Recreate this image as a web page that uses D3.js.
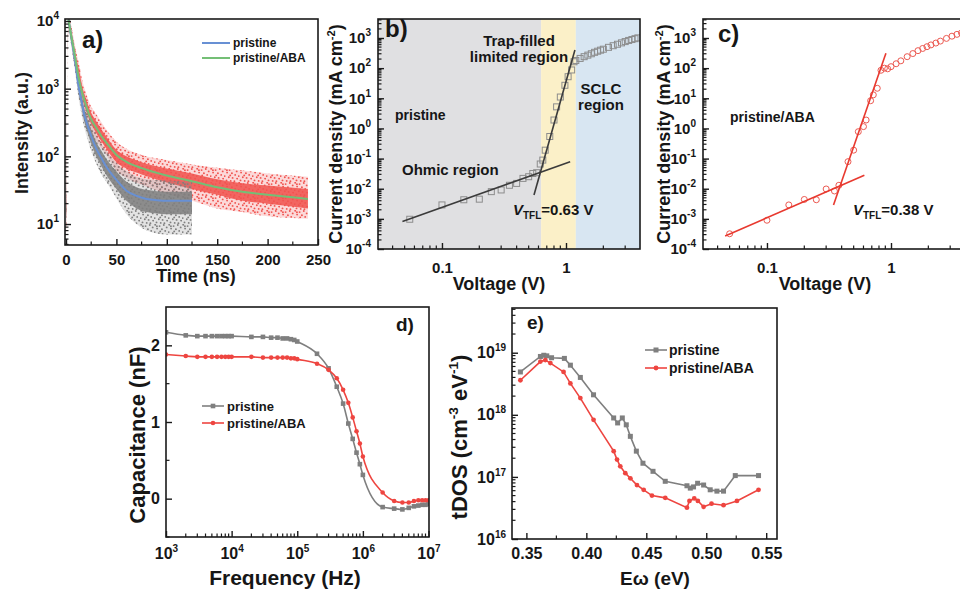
<!DOCTYPE html>
<html>
<head>
<meta charset="utf-8">
<script src="https://cdn.jsdelivr.net/npm/d3@7/dist/d3.min.js"></script>
<style>
  html, body { margin: 0; padding: 0; background: #fff; }
  svg text { font-family: "Liberation Sans", Arial, Helvetica, sans-serif; font-weight: bold; fill: #161616; }
</style>
</head>
<body>
<svg id="fig" width="960" height="590"></svg>
<script>
// ================= (a) time-resolved PL decay =================
const plTickTime = [0, 50, 100, 150, 200, 250];
const plTickIntensity = [10, 100, 1000, 10000];

// scatter cloud envelopes, pristine/ABA film
const plCloudTimeABA = [0.5, 2.5, 4, 6, 8, 10, 13, 16, 20, 25, 30, 40, 50, 60, 75, 100, 125, 150, 175, 200, 240];
const plOuterHiABA   = [30, 14000, 10500, 7400, 5200, 3600, 2300, 1350, 850, 540, 420, 250, 165, 130, 105, 88, 76, 68, 62, 56, 50];
const plOuterLoABA   = [7, 8000, 5800, 3800, 2500, 1650, 1100, 600, 400, 240, 170, 105, 62, 48, 38, 28, 22, 17, 15, 13, 12];
const plCoreHiABA    = [22, 12000, 8800, 6200, 4300, 2900, 1900, 1100, 700, 440, 330, 195, 125, 100, 82, 66, 56, 46, 40, 37, 33];
const plCoreLoABA    = [12, 9000, 6500, 4400, 3000, 2000, 1300, 750, 470, 300, 220, 130, 82, 66, 54, 41, 33, 27, 22, 20, 17];

// scatter cloud envelopes, pristine film
const plCloudTimePristine = [0.5, 2.5, 4, 6, 8, 10, 12, 15, 18, 20, 25, 30, 35, 40, 50, 60, 70, 80, 100, 125];
const plOuterHiPristine   = [30, 13500, 10000, 6600, 4400, 2800, 1750, 1050, 650, 500, 320, 210, 155, 120, 80, 60, 50, 46, 44, 42];
const plOuterLoPristine   = [8, 8000, 5600, 3600, 2300, 1400, 800, 450, 270, 210, 120, 78, 55, 42, 24, 14, 10, 8, 7, 7];
const plCoreHiPristine    = [22, 12000, 8600, 5700, 3800, 2400, 1450, 860, 520, 410, 250, 165, 122, 92, 60, 42, 35, 32, 30, 30];
const plCoreLoPristine    = [12, 9000, 6500, 4200, 2700, 1650, 1000, 570, 330, 260, 155, 100, 72, 53, 33, 22, 17, 15, 14, 14];

// fitted decay curves
const plFitTimePristine = [2.5, 4, 6, 8, 10, 12, 15, 18, 20, 25, 30, 35, 40, 50, 60, 70, 80, 90, 100, 125];
const plFitPristine     = [10500, 7500, 4900, 3200, 2000, 1200, 700, 420, 330, 200, 130, 95, 70, 45, 31, 26, 23.5, 22.5, 22, 22];
const plFitTimeABA = [2.5, 4, 6, 8, 10, 12, 15, 18, 20, 23, 26, 30, 35, 40, 50, 60, 75, 100, 125, 150, 175, 200, 240];
const plFitABA     = [10500, 7600, 5200, 3600, 2400, 1600, 1000, 700, 560, 410, 330, 265, 200, 160, 105, 83, 67, 52, 43, 35, 30, 27, 23.5];
const plLegend = ["pristine", "pristine/ABA"];

// ================= (b), (c) dark J-V (SCLC) =================
const ivTickVolt = [0.1, 1];
const ivTickCurrent = [1e-4, 1e-3, 1e-2, 1e-1, 1, 10, 100, 1000];

const bVolt = [0.055, 0.1, 0.15, 0.2, 0.25, 0.3, 0.35, 0.4, 0.45, 0.5, 0.54, 0.58, 0.62, 0.65, 0.68, 0.74, 0.8, 0.84, 0.9, 0.98, 1.04, 1.11, 1.16, 1.2, 1.3, 1.4, 1.5, 1.6, 1.7, 1.8, 1.9, 2.0, 2.2, 2.4, 2.6, 2.8, 3.0, 3.2, 3.4, 3.6, 3.8];
const bCurr = [9.7e-4, 2.9e-3, 4.3e-3, 4.5e-3, 8e-3, 9.1e-3, 1.3e-2, 1.5e-2, 2.2e-2, 2.5e-2, 3.2e-2, 3.4e-2, 6.6e-2, 8.9e-2, 0.19, 0.54, 1.9, 5.2, 11, 27, 52, 87, 163, 180, 210, 240, 270, 300, 335, 365, 395, 425, 490, 555, 620, 690, 760, 830, 890, 950, 1010];
const bOhmicFitV = [0.048, 1.08], bOhmicFitJ = [8.1e-4, 0.079];
const bTflFitV = [0.552, 1.18],   bTflFitJ = [6.2e-3, 400];
const bRegionEdges = [0.0305, 0.63, 1.2, 3.95];
const bVtfl = "0.63";

const cVolt = [0.05, 0.1, 0.15, 0.2, 0.25, 0.3, 0.35, 0.38, 0.45, 0.5, 0.545, 0.6, 0.63, 0.685, 0.72, 0.775, 0.83, 0.885, 0.94, 1.0, 1.1, 1.2, 1.35, 1.5, 1.65, 1.8, 1.95, 2.1, 2.3, 2.5, 2.8, 3.1, 3.4, 3.7];
const cCurr = [3.2e-4, 9e-4, 2.9e-3, 4.4e-3, 4.3e-3, 9.8e-3, 8.4e-3, 1.3e-2, 0.079, 0.19, 0.78, 1.15, 1.9, 8.3, 13, 21.5, 85, 100, 95, 112, 140, 175, 240, 305, 380, 450, 515, 590, 680, 790, 970, 1150, 1320, 1480];
const cOhmicFitV = [0.046, 0.61], cOhmicFitJ = [2.7e-4, 0.028];
const cTflFitV = [0.344, 0.91],   cTflFitJ = [2.9e-3, 310];
const cVtfl = "0.38";

// ================= (d) capacitance-frequency =================
const cfTickFreq = [1e3, 1e4, 1e5, 1e6, 1e7];
const cfTickCap = [0, 1, 2];
const cfFreq = [1e3, 2e3, 3e3, 4e3, 5e3, 6e3, 7e3, 8e3, 9e3,
                1e4, 2e4, 3e4, 4e4, 5e4, 6e4, 7e4, 8e4, 9e4,
                1e5, 2e5, 3e5, 4e5, 5e5, 6e5, 7e5, 8e5, 9e5,
                1e6, 2e6, 3e6, 4e6, 5e6, 6e6, 7e6, 8e6, 9e6, 1e7];
const cfPristine = [2.17, 2.13, 2.12, 2.12, 2.12, 2.12, 2.12, 2.12, 2.12,
                    2.12, 2.11, 2.11, 2.10, 2.10, 2.09, 2.09, 2.08, 2.07,
                    2.05, 1.89, 1.70, 1.46, 1.24, 0.98, 0.78, 0.60, 0.45,
                    0.31, -0.11, -0.13, -0.14, -0.12, -0.10, -0.09, -0.08, -0.08, -0.07];
const cfABA = [1.88, 1.86, 1.85, 1.85, 1.85, 1.85, 1.85, 1.85, 1.85,
               1.85, 1.85, 1.84, 1.84, 1.84, 1.84, 1.84, 1.83, 1.83,
               1.82, 1.76, 1.68, 1.57, 1.42, 1.25, 1.06, 0.88, 0.72,
               0.55, 0.08, -0.03, -0.05, -0.05, -0.03, -0.02, -0.02, -0.02, -0.02];

// ================= (e) trap density of states =================
const tdTickE = [0.35, 0.40, 0.45, 0.50, 0.55];
const tdTickDos = [1e16, 1e17, 1e18, 1e19];
const tdEPristine = [0.345, 0.3617, 0.3645, 0.367, 0.371, 0.3817, 0.3867, 0.395, 0.406, 0.4228, 0.4261, 0.43, 0.4333, 0.4367, 0.4417, 0.4472, 0.4556, 0.4658, 0.4839, 0.4867, 0.4894, 0.4928, 0.4978, 0.5033, 0.5089, 0.5144, 0.5242, 0.5436];
const tdDosPristine = [4.9e18, 8.7e18, 9.1e18, 8.9e18, 8.3e18, 8.1e18, 6.3e18, 4.0e18, 2.1e18, 8.9e17, 7.4e17, 8.9e17, 6.9e17, 4.5e17, 2.6e17, 1.66e17, 1.23e17, 8.5e16, 7.2e16, 6.6e16, 6.9e16, 7.9e16, 7.4e16, 6.2e16, 5.9e16, 5.9e16, 1.05e17, 1.05e17];
const tdEABA = [0.345, 0.3617, 0.3658, 0.370, 0.381, 0.3867, 0.395, 0.406, 0.4228, 0.4256, 0.4283, 0.4325, 0.4367, 0.4422, 0.4478, 0.4547, 0.4658, 0.4839, 0.486, 0.49, 0.493, 0.4978, 0.5044, 0.5144, 0.5256, 0.5436];
const tdDosABA = [3.6e18, 7.2e18, 7.6e18, 6.8e18, 4.9e18, 3.2e18, 1.86e18, 8.3e17, 2.6e17, 1.9e17, 1.48e17, 1.15e17, 9.5e16, 7.4e16, 6.2e16, 5.0e16, 4.6e16, 3.2e16, 4.1e16, 4.5e16, 4.1e16, 3.3e16, 3.7e16, 3.5e16, 4.1e16, 6.2e16];
const seriesNames = ["pristine", "pristine/ABA"];

// ================= drawing =================
const INK = "#1a1a1a";
const GREY = "#7f7f7f";
const RED = "#ee4540";
const svg = d3.select("#fig");
const defs = svg.append("defs");

function zip(xs, ys) { return xs.map((x, i) => ({ x, y: ys[i] })); }

function clipRect(id, x0, y0, x1, y1) {
  defs.append("clipPath").attr("id", id).append("rect")
    .attr("x", x0).attr("y", y0).attr("width", x1 - x0).attr("height", y1 - y0);
  return "url(#" + id + ")";
}

function frame(x0, y0, x1, y1) {
  svg.append("rect").attr("x", x0).attr("y", y0).attr("width", x1 - x0).attr("height", y1 - y0)
    .attr("fill", "none").attr("stroke", INK).attr("stroke-width", 1.6);
}

function logMinor(lo, hi) {
  const out = [];
  for (let e = Math.floor(Math.log10(lo)) - 1; e <= Math.ceil(Math.log10(hi)); e++)
    for (let m = 2; m <= 9; m++) { const v = m * Math.pow(10, e); if (v > lo && v < hi) out.push(v); }
  return out;
}

function powerLabels(g, supSize, rise) {
  g.selectAll(".tick text").each(function (d) {
    const ex = Math.round(Math.log10(d));
    const t = d3.select(this).text(null);
    t.append("tspan").text("10");
    t.append("tspan").attr("dy", -rise).attr("font-size", supSize).text(ex);
  });
}

function bottomAxis(scale, y, major, minor, opt) {
  const g = svg.append("g").attr("transform", `translate(0,${y})`);
  const ax = d3.axisBottom(scale).tickValues(major).tickSize(-6).tickPadding(opt.pad);
  if (opt.fmt) ax.tickFormat(opt.fmt);
  g.call(ax);
  g.select(".domain").remove();
  g.selectAll(".tick line").attr("stroke", INK).attr("stroke-width", 1.4);
  g.selectAll(".tick text").attr("font-size", opt.fs).attr("font-family", null);
  g.selectAll("line.minor").data(minor).join("line").attr("class", "minor")
    .attr("x1", d => scale(d)).attr("x2", d => scale(d)).attr("y1", 0).attr("y2", -3.5)
    .attr("stroke", INK).attr("stroke-width", 1.2);
  if (opt.pow) powerLabels(g, opt.supFs, opt.rise);
  return g;
}

function leftAxis(scale, x, major, minor, opt) {
  const g = svg.append("g").attr("transform", `translate(${x},0)`);
  const ax = d3.axisLeft(scale).tickValues(major).tickSize(-6).tickPadding(opt.pad);
  if (opt.fmt) ax.tickFormat(opt.fmt);
  g.call(ax);
  g.select(".domain").remove();
  g.selectAll(".tick line").attr("stroke", INK).attr("stroke-width", 1.4);
  g.selectAll(".tick text").attr("font-size", opt.fs).attr("font-family", null);
  g.selectAll("line.minor").data(minor).join("line").attr("class", "minor")
    .attr("y1", d => scale(d)).attr("y2", d => scale(d)).attr("x1", 0).attr("x2", 3.5)
    .attr("stroke", INK).attr("stroke-width", 1.2);
  if (opt.pow) powerLabels(g, opt.supFs, opt.rise);
  return g;
}

function text(x, y, str, fs, anchor) {
  return svg.append("text").attr("x", x).attr("y", y).attr("font-size", fs)
    .attr("text-anchor", anchor || "start").text(str);
}

function vTitle(cx, cy, fs, parts) {
  const t = svg.append("text").attr("transform", `translate(${cx},${cy}) rotate(-90)`)
    .attr("text-anchor", "middle").attr("dy", "0.35em").attr("font-size", fs);
  parts.forEach(p => {
    const s = t.append("tspan").text(p.t);
    if (p.sup) s.attr("dy", -fs * 0.4).attr("font-size", fs * 0.62);
    if (p.back) s.attr("dy", fs * 0.4);
  });
  return t;
}

function vtflLabel(x, y, value) {
  const t = svg.append("text").attr("x", x).attr("y", y).attr("font-size", 15);
  t.append("tspan").attr("font-style", "italic").text("V");
  t.append("tspan").attr("font-size", 10).attr("dy", 4).text("TFL");
  t.append("tspan").attr("dy", -4).text("=" + value + " V");
}

// irregular speckle used for the sparse fringe of the photon-count clouds
const speckDots = [[1.2, 0.8], [5.6, 2.1], [9.8, 1.0], [12.7, 3.4], [3.1, 4.6], [7.9, 5.2], [11.2, 6.9],
                   [0.7, 8.1], [4.8, 9.3], [8.6, 9.9], [13.1, 10.6], [2.5, 12.4], [6.7, 12.9], [10.4, 13.2],
                   [6.2, 7.4], [2.9, 2.3]];

// ---------- panel (a) ----------
{
  const L = 65, T = 19, R = 318, B = 245;
  const x = d3.scaleLinear().domain([-1, 250]).range([L, R]);
  const y = d3.scaleLog().domain([4.9, 10700]).range([B, T]);
  const g = svg.append("g").attr("clip-path", clipRect("clipA", L, T, R, B));

  const pat = (id, col) => {
    const p = defs.append("pattern").attr("id", id).attr("width", 14).attr("height", 14)
      .attr("patternUnits", "userSpaceOnUse");
    speckDots.forEach(c => p.append("circle").attr("cx", c[0]).attr("cy", c[1]).attr("r", 0.95).attr("fill", col));
    return "url(#" + id + ")";
  };
  const band = d3.area().x(d => x(d.t)).y0(d => y(d.lo)).y1(d => y(d.hi)).curve(d3.curveMonotoneX);
  const rows = (ts, hi, lo) => ts.map((t, i) => ({ t, hi: hi[i], lo: lo[i] }));
  const cloud = (ts, oHi, oLo, cHi, cLo, col, id) => {
    const outer = band(rows(ts, oHi, oLo));
    g.append("path").attr("d", outer).attr("fill", col).attr("opacity", 0.22);
    g.append("path").attr("d", outer).attr("fill", pat(id, col));
    g.append("path").attr("d", band(rows(ts, cHi, cLo))).attr("fill", col).attr("opacity", 0.88);
  };
  cloud(plCloudTimeABA, plOuterHiABA, plOuterLoABA, plCoreHiABA, plCoreLoABA, "#f05450", "speckRed");
  cloud(plCloudTimePristine, plOuterHiPristine, plOuterLoPristine, plCoreHiPristine, plCoreLoPristine, "#808080", "speckGrey");

  const line = d3.line().x(d => x(d.x)).y(d => y(d.y)).curve(d3.curveMonotoneX);
  g.append("path").attr("d", line(zip(plFitTimePristine, plFitPristine)))
    .attr("fill", "none").attr("stroke", "#6890d4").attr("stroke-width", 2);
  g.append("path").attr("d", line(zip(plFitTimeABA, plFitABA)))
    .attr("fill", "none").attr("stroke", "#74bf76").attr("stroke-width", 2);

  frame(L, T, R, B);
  bottomAxis(x, B, plTickTime, [25, 75, 125, 175, 225], { pad: 9, fs: 15 });
  leftAxis(y, L, plTickIntensity, logMinor(4.9, 10700), { pad: 6, fs: 15, pow: true, supFs: 10, rise: 7 });

  [["#6890d4", 43], ["#74bf76", 58]].forEach((d, i) => {
    svg.append("line").attr("x1", 202).attr("x2", 230).attr("y1", d[1]).attr("y2", d[1])
      .attr("stroke", d[0]).attr("stroke-width", 2);
    text(233, d[1] + 4, plLegend[i], 12);
  });
  text(82, 48, "a)", 24);
  vTitle(22, 133, 18, [{ t: "Intensity (a.u.)" }]);
  text(196, 282, "Time (ns)", 18, "middle");
}

// ---------- panels (b) and (c) ----------
function ivPanel(o) {
  const { L, T, R, B } = o;
  const x = d3.scaleLog().domain([0.0305, 3.95]).range([L, R]);
  const y = d3.scaleLog().domain([1e-4, 4270]).range([B, T]);
  const g = svg.append("g").attr("clip-path", clipRect(o.id, L, T, Math.min(R, 960), B));

  if (o.regions) {
    const fills = ["#e0e0e2", "#fbf0c8", "#d8e6f2"];
    o.regions.slice(0, -1).forEach((v, i) => {
      g.append("rect").attr("x", x(v)).attr("y", T).attr("width", x(o.regions[i + 1]) - x(v))
        .attr("height", B - T).attr("fill", fills[i]);
    });
  }
  const pts = zip(o.v, o.j);
  if (o.square) {
    g.selectAll("rect.pt").data(pts).join("rect").attr("class", "pt")
      .attr("x", d => x(d.x) - 3).attr("y", d => y(d.y) - 3).attr("width", 6).attr("height", 6)
      .attr("fill", "none").attr("stroke", o.mark).attr("stroke-width", 1);
  } else {
    g.selectAll("circle.pt").data(pts).join("circle").attr("class", "pt")
      .attr("cx", d => x(d.x)).attr("cy", d => y(d.y)).attr("r", 3)
      .attr("fill", "none").attr("stroke", o.mark).attr("stroke-width", 1);
  }
  const line = d3.line().x(d => x(d.x)).y(d => y(d.y));
  o.fits.forEach(f => g.append("path").attr("d", line(zip(f[0], f[1])))
    .attr("fill", "none").attr("stroke", o.fitCol).attr("stroke-width", 1.6));

  frame(L, T, R, B);
  bottomAxis(x, B, ivTickVolt, logMinor(0.0305, 3.95), { pad: 13, fs: 15, fmt: d3.format("") });
  leftAxis(y, L, ivTickCurrent, logMinor(1e-4, 4270), { pad: 7, fs: 15, pow: true, supFs: 10, rise: 7 });
  vTitle(o.ytx, 134, 18, [{ t: "Current density (mA cm" }, { t: "-2", sup: true }, { t: ")", back: true }]);
  text(o.xtx, 290, "Voltage (V)", 18, "middle");
  return { x, y };
}

{
  ivPanel({ id: "clipB", L: 378, T: 19, R: 640, B: 249, v: bVolt, j: bCurr, square: true,
    mark: "#8c8c8c", fitCol: "#3b3b3b", regions: bRegionEdges, ytx: 336, xtx: 499,
    fits: [[bOhmicFitV, bOhmicFitJ], [bTflFitV, bTflFitJ]] });
  text(385, 37, "b)", 24);
  text(519, 46, "Trap-filled", 15, "middle");
  text(519, 62, "limited region", 15, "middle");
  text(601, 94, "SCLC", 15, "middle");
  text(601, 110, "region", 15, "middle");
  text(395, 120, "pristine", 14);
  text(402, 175, "Ohmic region", 15);
  vtflLabel(513, 215, bVtfl);

  ivPanel({ id: "clipC", L: 703, T: 19, R: 965, B: 249, v: cVolt, j: cCurr, square: false,
    mark: "#ec5a52", fitCol: "#e8392f", ytx: 664, xtx: 825,
    fits: [[cOhmicFitV, cOhmicFitJ], [cTflFitV, cTflFitJ]] });
  text(718, 42, "c)", 24);
  text(730, 122, "pristine/ABA", 14);
  vtflLabel(853, 215, cVtfl);
}

// ---------- panel (d) ----------
{
  const L = 166, T = 307, R = 429, B = 537;
  const x = d3.scaleLog().domain([1e3, 1e7]).range([L, R - 0.5]);
  const y = d3.scaleLinear().domain([-0.5, 2.5]).range([B, T]);
  const g = svg.append("g").attr("clip-path", clipRect("clipD", L, T, R, B));
  const line = d3.line().x(d => x(d.x)).y(d => y(d.y)).curve(d3.curveMonotoneX);

  g.append("path").attr("d", line(zip(cfFreq, cfPristine))).attr("fill", "none").attr("stroke", GREY).attr("stroke-width", 1.6);
  g.selectAll("rect.pt").data(zip(cfFreq, cfPristine)).join("rect").attr("class", "pt")
    .attr("x", d => x(d.x) - 2.3).attr("y", d => y(d.y) - 2.3).attr("width", 4.6).attr("height", 4.6).attr("fill", GREY);
  g.append("path").attr("d", line(zip(cfFreq, cfABA))).attr("fill", "none").attr("stroke", RED).attr("stroke-width", 1.6);
  g.selectAll("circle.pt").data(zip(cfFreq, cfABA)).join("circle").attr("class", "pt")
    .attr("cx", d => x(d.x)).attr("cy", d => y(d.y)).attr("r", 2.3).attr("fill", RED);

  frame(L, T, R, B);
  bottomAxis(x, B, cfTickFreq, logMinor(1e3, 1e7), { pad: 11, fs: 16, pow: true, supFs: 10, rise: 7 });
  leftAxis(y, L, cfTickCap, [-0.5, 0.5, 1.5], { pad: 6, fs: 16, fmt: d3.format("d") });

  [[GREY, 406, "sq"], [RED, 423, "ci"]].forEach((d, i) => {
    svg.append("line").attr("x1", 202).attr("x2", 224).attr("y1", d[1]).attr("y2", d[1]).attr("stroke", d[0]).attr("stroke-width", 1.6);
    if (d[2] === "sq") svg.append("rect").attr("x", 210.7).attr("y", d[1] - 2.3).attr("width", 4.6).attr("height", 4.6).attr("fill", d[0]);
    else svg.append("circle").attr("cx", 213).attr("cy", d[1]).attr("r", 2.3).attr("fill", d[0]);
    text(227, d[1] + 4.5, seriesNames[i], 13);
  });
  text(396, 331, "d)", 19);
  vTitle(137, 435, 22, [{ t: "Capacitance (nF)" }]);
  text(285, 585, "Frequency (Hz)", 21, "middle");
}

// ---------- panel (e) ----------
{
  const L = 512, T = 308, R = 777, B = 539;
  const x = d3.scaleLinear().domain([0.338, 0.559]).range([L, R]);
  const y = d3.scaleLog().domain([1e16, 5.25e19]).range([B, T]);
  const g = svg.append("g").attr("clip-path", clipRect("clipE", L, T, R, B));
  const line = d3.line().x(d => x(d.x)).y(d => y(d.y));

  g.append("path").attr("d", line(zip(tdEPristine, tdDosPristine))).attr("fill", "none").attr("stroke", GREY).attr("stroke-width", 1.6);
  g.selectAll("rect.pt").data(zip(tdEPristine, tdDosPristine)).join("rect").attr("class", "pt")
    .attr("x", d => x(d.x) - 2.5).attr("y", d => y(d.y) - 2.5).attr("width", 5).attr("height", 5).attr("fill", GREY);
  g.append("path").attr("d", line(zip(tdEABA, tdDosABA))).attr("fill", "none").attr("stroke", RED).attr("stroke-width", 1.6);
  g.selectAll("circle.pt").data(zip(tdEABA, tdDosABA)).join("circle").attr("class", "pt")
    .attr("cx", d => x(d.x)).attr("cy", d => y(d.y)).attr("r", 2.4).attr("fill", RED);

  frame(L, T, R, B);
  bottomAxis(x, B, tdTickE, [0.375, 0.425, 0.475, 0.525], { pad: 9, fs: 16, fmt: d3.format(".2f") });
  leftAxis(y, L, tdTickDos, logMinor(1e16, 5.25e19), { pad: 6, fs: 16, pow: true, supFs: 10, rise: 7 });

  [[GREY, 350, "sq"], [RED, 368, "ci"]].forEach((d, i) => {
    svg.append("line").attr("x1", 645).attr("x2", 667).attr("y1", d[1]).attr("y2", d[1]).attr("stroke", d[0]).attr("stroke-width", 1.6);
    if (d[2] === "sq") svg.append("rect").attr("x", 653.5).attr("y", d[1] - 2.5).attr("width", 5).attr("height", 5).attr("fill", d[0]);
    else svg.append("circle").attr("cx", 656).attr("cy", d[1]).attr("r", 2.4).attr("fill", d[0]);
    text(669, d[1] + 5, seriesNames[i], 14);
  });
  text(527, 329, "e)", 19);
  vTitle(459, 437, 22, [{ t: "tDOS (cm" }, { t: "-3", sup: true }, { t: " eV", back: true }, { t: "-1", sup: true }, { t: ")", back: true }]);
  text(655, 585, "E\u03c9 (eV)", 19, "middle");
}
</script>
</body>
</html>
